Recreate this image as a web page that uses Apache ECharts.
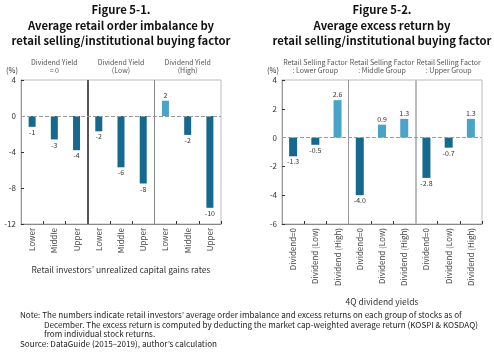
<!DOCTYPE html>
<html>
<head>
<meta charset="utf-8">
<script src="https://cdn.jsdelivr.net/npm/echarts@6/dist/echarts.min.js"></script>
<style>
html,body{margin:0;padding:0;background:#fff;}
#c{width:494px;height:361px;}
</style>
</head>
<body>
<div id="c"></div>
<script>
// ---- data ----
const leftGroups = ['Dividend Yield\n= 0', 'Dividend Yield\n(Low)', 'Dividend Yield\n(High)'];
const leftCategories = ['Lower', 'Middle', 'Upper', 'Lower', 'Middle', 'Upper', 'Lower', 'Middle', 'Upper'];
const leftValues = [-1.2, -2.6, -3.8, -1.7, -5.7, -7.5, 1.7, -2.1, -10.2];
const leftLabels = ['-1', '-3', '-4', '-2', '-6', '-8', '2', '-2', '-10'];
const leftTicks = [4, 0, -4, -8, -12];

const rightGroups = ['Retail Selling Factor\n: Lower Group', 'Retail Selling Factor\n: Middle Group', 'Retail Selling Factor\n: Upper Group'];
const rightCategories = ['Dividend=0', 'Dividend (Low)', 'Dividend (High)', 'Dividend=0', 'Dividend (Low)', 'Dividend (High)', 'Dividend=0', 'Dividend (Low)', 'Dividend (High)'];
const rightValues = [-1.3, -0.5, 2.6, -4.0, 0.9, 1.3, -2.8, -0.7, 1.3];
const rightLabels = ['-1.3', '-0.5', '2.6', '-4.0', '0.9', '1.3', '-2.8', '-0.7', '1.3'];
const rightTicks = [4, 2, 0, -2, -4, -6];

const titleLeft = 'Figure 5-1.\nAverage retail order imbalance by\nretail selling/institutional buying factor';
const titleRight = 'Figure 5-2.\nAverage excess return by\nretail selling/institutional buying factor';
const xNameLeft = 'Retail investors\u2019 unrealized capital gains rates';
const xNameRight = '4Q dividend yields';
const noteLines = [
  'Note: The numbers indicate retail investors\u2019 average order imbalance and excess returns on each group of stocks as of',
  'December. The excess return is computed by deducting the market cap-weighted average return (KOSPI & KOSDAQ)',
  'from individual stock returns.',
  'Source: DataGuide (2015\u20132019), author\u2019s calculation'
];

// ---- style ----
const FONT = '"Noto Sans CJK KR", "Noto Sans", sans-serif';
const DARK = '#15698f';
const LIGHT = '#4aa4c8';

const chart = echarts.init(document.getElementById('c'), null, {renderer: 'canvas'});

function barItems(vals) {
  return vals.map(v => ({value: v, itemStyle: {color: v < 0 ? DARK : LIGHT}}));
}

function yAxisFor(gi, ticks) {
  return {
    type: 'value', gridIndex: gi,
    min: ticks[ticks.length - 1], max: ticks[0], interval: ticks[0] - ticks[1],
    name: '(%)', nameLocation: 'end', nameGap: 6,
    nameTextStyle: {fontFamily: FONT, fontSize: 7.5, color: '#333', align: 'right', padding: [0, 3, 0, 0]},
    axisLine: {show: true, lineStyle: {color: '#999', width: 1}},
    axisTick: {show: true, inside: true, length: 3, lineStyle: {color: '#333'}},
    axisLabel: {fontFamily: FONT, fontSize: 8, color: '#333', margin: 5},
    splitLine: {show: false}
  };
}

function mainX(gi, cats, name, gap) {
  return {
    type: 'category', gridIndex: gi, data: cats, position: 'bottom',
    axisLine: {show: true, onZero: false, lineStyle: {color: '#888'}},
    axisTick: {show: true, inside: true, length: 3, interval: (i) => i % 3 !== 0, lineStyle: {color: '#333'}},
    axisLabel: {interval: 0, rotate: 90, fontFamily: FONT, fontSize: 8, color: '#444', margin: 4},
    name: name, nameLocation: 'middle', nameGap: gap,
    nameTextStyle: {fontFamily: FONT, fontSize: 8.5, color: '#333'}
  };
}

function headerX(gi, groups) {
  return {
    type: 'category', gridIndex: gi, data: groups, position: 'top',
    axisLine: {show: false}, axisTick: {show: false},
    axisLabel: {interval: 0, fontFamily: FONT, fontSize: 7, lineHeight: 8, color: '#555', margin: 6},
    splitLine: {show: false}
  };
}

function sepX(gi) {
  return {type: 'value', gridIndex: gi, min: 0, max: 9, show: false};
}

const zeroLine = {
  silent: true, symbol: ['none', 'none'],
  label: {show: false},
  lineStyle: {type: [4, 2], color: '#9a9a9a', width: 1},
  data: [{yAxis: 0}]
};

function barSeries(xi, yi, vals, labels, bw) {
  return {
    type: 'bar', xAxisIndex: xi, yAxisIndex: yi, barWidth: bw,
    data: barItems(vals),
    label: {
      show: true, position: 'outside', distance: 2,
      fontFamily: FONT, fontSize: 7, color: '#333',
      formatter: (p) => labels[p.dataIndex]
    },
    markLine: zeroLine,
    animation: false
  };
}

function sepSeries(xi, yi, c1, w1, c2, w2) {
  return {
    type: 'line', xAxisIndex: xi, yAxisIndex: yi, data: [],
    markLine: {
      silent: true, symbol: ['none', 'none'], label: {show: false},
      data: [
        {xAxis: 3, lineStyle: {color: c1, width: w1, type: 'solid'}},
        {xAxis: 6, lineStyle: {color: c2, width: w2, type: 'solid'}}
      ]
    },
    animation: false
  };
}

const TITLE_STYLE = {fontFamily: FONT, fontSize: 11.3, fontWeight: 'bold', lineHeight: 15.5, color: '#111'};
const NOTE_FONT = '8.15px ' + FONT;

const option = {
  animation: false,
  textStyle: {fontFamily: FONT},
  title: [
    {text: titleLeft, left: 121, top: 2, textAlign: 'center', padding: 0, textStyle: TITLE_STYLE},
    {text: titleRight, left: 382, top: 2, textAlign: 'center', padding: 0, textStyle: TITLE_STYLE}
  ],
  grid: [
    {left: 21, top: 80, width: 200, height: 144, show: true, borderColor: '#bbb', borderWidth: 1, containLabel: false},
    {left: 282, top: 80, width: 200, height: 144, show: true, borderColor: '#bbb', borderWidth: 1, containLabel: false}
  ],
  xAxis: [
    mainX(0, leftCategories, xNameLeft, 42),
    headerX(0, leftGroups),
    sepX(0),
    mainX(1, rightCategories, xNameRight, 74),
    headerX(1, rightGroups),
    sepX(1)
  ],
  yAxis: [yAxisFor(0, leftTicks), yAxisFor(1, rightTicks)],
  series: [
    sepSeries(2, 0, '#555', 2, '#888', 1),
    barSeries(0, 0, leftValues, leftLabels, 7),
    sepSeries(5, 1, '#999', 1, '#bbb', 2),
    barSeries(3, 1, rightValues, rightLabels, 8)
  ],
  graphic: [
    {type: 'text', left: 20, top: 311, style: {text: noteLines[0], font: NOTE_FONT, fill: '#222'}},
    {type: 'text', left: 44, top: 321, style: {text: noteLines[1], font: NOTE_FONT, fill: '#222'}},
    {type: 'text', left: 44, top: 330, style: {text: noteLines[2], font: NOTE_FONT, fill: '#222'}},
    {type: 'text', left: 20, top: 340, style: {text: noteLines[3], font: NOTE_FONT, fill: '#222'}}
  ]
};
chart.setOption(option);
</script>
</body>
</html>
